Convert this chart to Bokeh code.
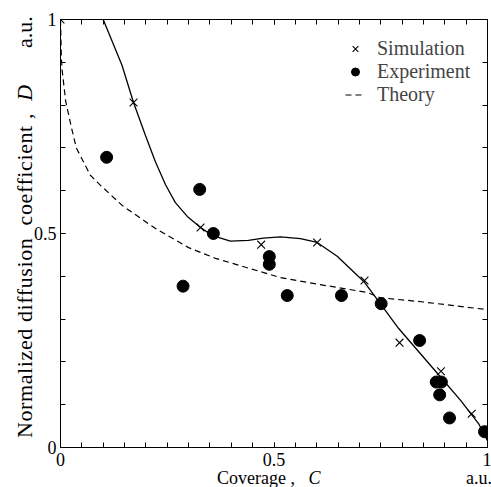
from bokeh.plotting import figure
from bokeh.models import (Range1d, LinearAxis, FixedTicker, Legend,
                          LegendItem, CustomJSTickFormatter, Div)
from bokeh.layouts import column
from bokeh.embed import file_html
from bokeh.resources import INLINE

# ---------------- data ----------------
sim_x = [0.0, 0.171, 0.328, 0.470, 0.601, 0.712, 0.794, 0.891, 0.963]
sim_y = [1.0, 0.806, 0.514, 0.474, 0.479, 0.390, 0.245, 0.178, 0.079]

exp_x = [0.108, 0.287, 0.326, 0.358, 0.489, 0.489, 0.531, 0.658, 0.751,
         0.841, 0.880, 0.892, 0.888, 0.911, 0.993]
exp_y = [0.678, 0.377, 0.603, 0.500, 0.446, 0.428, 0.355, 0.355, 0.336,
         0.250, 0.153, 0.153, 0.123, 0.069, 0.037]

fit_x = [0.100, 0.144, 0.171, 0.199, 0.222, 0.246, 0.269, 0.297, 0.328,
         0.356, 0.398, 0.440, 0.475, 0.515, 0.562, 0.601, 0.648, 0.712,
         0.749, 0.792, 0.883, 0.937, 0.979, 1.0]
fit_y = [1.000, 0.893, 0.806, 0.729, 0.668, 0.614, 0.572, 0.540, 0.514,
         0.495, 0.482, 0.484, 0.489, 0.492, 0.488, 0.479, 0.447, 0.386,
         0.336, 0.278, 0.173, 0.110, 0.056, 0.016]

theory_x = [0.0, 0.002, 0.004, 0.012, 0.025, 0.037, 0.070, 0.089, 0.145,
            0.222, 0.300, 0.363, 0.515, 0.600, 0.719, 0.749, 0.850, 1.0]
theory_y = [1.0, 0.91, 0.88, 0.81, 0.75, 0.70, 0.636, 0.617, 0.565,
            0.512, 0.467, 0.442, 0.397, 0.382, 0.362, 0.350, 0.340, 0.322]

x_major = [0, 0.5, 1]
x_minor = [0, 0.05, 0.1, 0.15, 0.2, 0.25, 0.3, 0.35, 0.4, 0.45, 0.5,
           0.55, 0.6, 0.65, 0.7, 0.75, 0.8, 0.85, 0.9, 0.95, 1]
y_major = [0, 0.5, 1]
y_minor = [0, 0.1, 0.2, 0.3, 0.4, 0.5, 0.6, 0.7, 0.8, 0.9, 1]

legend_labels = ["Simulation", "Experiment", "Theory"]

FONT = "Liberation Serif"

# ---------------- figure ----------------
p = figure(width=491, height=473, x_range=Range1d(0, 1), y_range=Range1d(0, 1),
           output_backend="svg", toolbar_location=None,
           min_border_left=60, min_border_right=4, min_border_top=19,
           min_border_bottom=26, x_axis_location=None, y_axis_location=None)
p.grid.visible = False
p.outline_line_color = "black"
p.outline_line_width = 1
p.background_fill_color = "white"
p.border_fill_color = "white"

fmt = CustomJSTickFormatter(code="return tick.toString();")


def style_axis(ax, labels):
    ax.axis_line_color = "black"
    ax.axis_line_width = 1
    ax.major_tick_in = 5
    ax.major_tick_out = 0
    ax.minor_tick_in = 5
    ax.minor_tick_out = 0
    ax.major_tick_line_color = "black"
    ax.minor_tick_line_color = "black"
    ax.formatter = fmt
    if labels:
        ax.major_label_text_font = FONT
        ax.major_label_text_font_size = "18px"
        ax.major_label_text_color = "black"
    else:
        ax.major_label_text_font_size = "0px"
        ax.major_label_text_alpha = 0
        ax.major_label_standoff = 0


xb = LinearAxis(ticker=FixedTicker(ticks=x_major, minor_ticks=x_minor))
style_axis(xb, True)
xb.major_label_standoff = 5
p.add_layout(xb, "below")

xt = LinearAxis(ticker=FixedTicker(ticks=x_major, minor_ticks=x_minor))
style_axis(xt, False)
p.add_layout(xt, "above")

yl = LinearAxis(ticker=FixedTicker(ticks=y_major, minor_ticks=y_minor))
style_axis(yl, True)
yl.major_label_standoff = 4
p.add_layout(yl, "left")

yr = LinearAxis(ticker=FixedTicker(ticks=y_major, minor_ticks=y_minor))
style_axis(yr, False)
p.add_layout(yr, "right")

# ---------------- glyphs ----------------
r_theory = p.line(theory_x, theory_y, line_color="black", line_width=1.2,
                  line_dash="6 4")
p.line(fit_x, fit_y, line_color="black", line_width=1.3)
r_sim = p.scatter(sim_x, sim_y, marker="x", size=11, line_color="black",
                  line_width=1.1)
r_exp = p.scatter(exp_x, exp_y, marker="circle", size=12, fill_color="black",
                  line_color="black")

legend = Legend(items=[LegendItem(label=legend_labels[0], renderers=[r_sim]),
                       LegendItem(label=legend_labels[1], renderers=[r_exp]),
                       LegendItem(label=legend_labels[2], renderers=[r_theory])],
                location=(285, 341), border_line_alpha=0,
                background_fill_alpha=0, label_text_font=FONT,
                label_text_font_size="20px", label_text_line_height=1.0,
                glyph_width=20, glyph_height=21,
                label_height=21, label_standoff=12, padding=0, margin=0,
                spacing=0)
p.add_layout(legend)

# ---------------- axis titles (HTML text overlaid on the figure border) ----
span = ("position:absolute;white-space:nowrap;line-height:1;"
        "font-family:'Liberation Serif';color:black;")
rot = "transform:rotate(-90deg);transform-origin:0 0;"
titles = (
    '<div style="position:relative;width:491px;height:14px;">'
    f'<span style="{span}font-size:18px;left:212px;top:-9px;">'
    'Coverage ,&nbsp;&nbsp; <i>C</i></span>'
    f'<span style="{span}font-size:18px;left:461px;top:-9px;">a.u.</span>'
    f'<span style="{span}{rot}font-size:22px;letter-spacing:0.6px;left:9px;top:-40px;">'
    'Normalized diffusion&nbsp;&nbsp;coefficient ,&nbsp; <i>D</i></span>'
    f'<span style="{span}{rot}font-size:22px;left:9px;top:-430px;">a.u.</span>'
    '</div>'
)
div = Div(text=titles, width=491, height=14, styles={"overflow": "visible"})

layout = column(p, div, spacing=0)
open("out.html", "w").write(file_html(layout, INLINE))
